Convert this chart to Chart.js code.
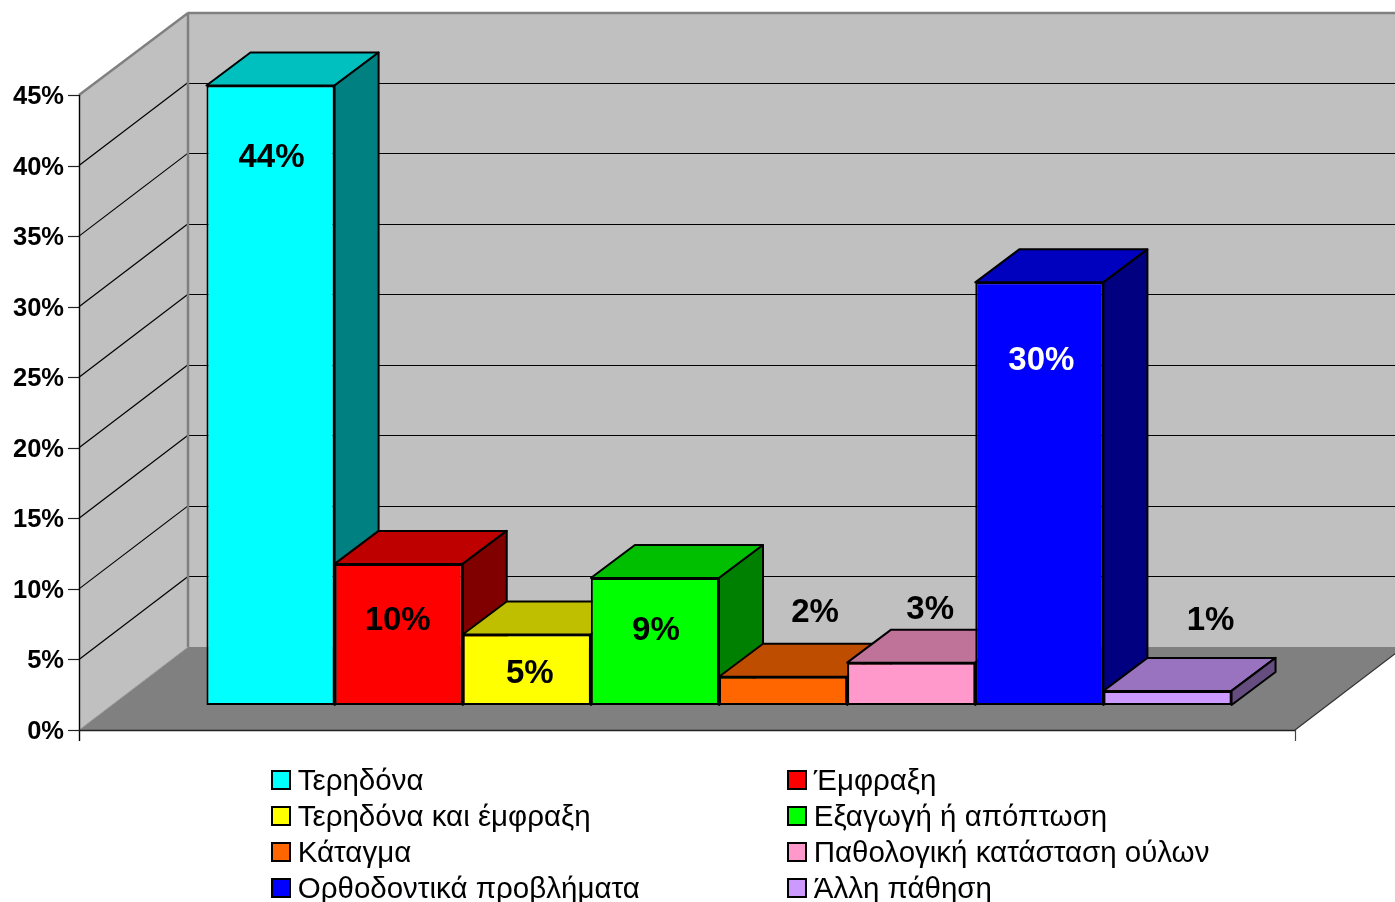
<!DOCTYPE html>
<html>
<head>
<meta charset="utf-8">
<style>html,body{margin:0;padding:0;background:#fff;overflow:hidden}canvas{display:block}</style>
<script src="https://cdn.jsdelivr.net/npm/chart.js@4"></script>
</head>
<body>
<canvas id="c" width="1395" height="902"></canvas>
<script>
const categories = ['Τερηδόνα','Έμφραξη','Τερηδόνα και έμφραξη','Εξαγωγή ή απόπτωση','Κάταγμα','Παθολογική κατάσταση ούλων','Ορθοδοντικά προβλήματα','Άλλη πάθηση'];
const values = [43.9,10,5,9,2,3,29.95,1];
const colors = ['#00ffff','#ff0000','#ffff00','#00ff00','#ff6600','#ff99cc','#0000ff','#cc99ff'];
const tickStep = 5;
const axisMax = 45;

// hand-placed data label offsets, relative to each bar's front-top centre
const labelNudge = [[1,72],[-1,57],[3,39],[1,53],[32,-64],[19,-53],[2,79],[43,-70]];
const labelColors = ['#000','#000','#000','#000','#000','#000','#fff','#000'];

// projection of the oblique 3D box, relative to the plane of the bars' front faces
const FRONT = {x:-32, y:25};
const BACK = {x:77, y:-58};
const BAR_DEPTH = {x:44, y:-33};

function shade(hex, k){
  const n = parseInt(hex.slice(1),16);
  const f = s => Math.round(((n>>s)&255)*k);
  return 'rgb('+f(16)+','+f(8)+','+f(0)+')';
}
function poly(ctx, pts, fill, stroke, lw){
  ctx.beginPath();
  pts.forEach((p,i)=> i ? ctx.lineTo(p[0],p[1]) : ctx.moveTo(p[0],p[1]));
  ctx.closePath();
  if(fill){ctx.fillStyle=fill;ctx.fill();}
  if(stroke){ctx.strokeStyle=stroke;ctx.lineWidth=lw;ctx.lineJoin='round';ctx.stroke();}
}
function line(ctx,x1,y1,x2,y2,color,lw){
  ctx.beginPath();ctx.moveTo(x1,y1);ctx.lineTo(x2,y2);
  ctx.strokeStyle=color;ctx.lineWidth=lw;ctx.stroke();
}

const COL_STEP = 516;
const box3d = {
  id:'box3d',
  afterLayout(chart){
    const l = chart.legend;
    l.maxHeight = 160;
    l.maxWidth = 1000;
    l.fit();
    l.columnSizes[0].width = COL_STEP - 6.5;
    l.left = 264.5; l.top = 760.5; l.right = 1264; l.bottom = 912;
    l.width = 1000; l.height = 151.5;
  },
  beforeDatasetsDraw(chart){
    const ctx = chart.ctx, a = chart.chartArea, y = chart.scales.y;
    const y0 = y.getPixelForValue(0), yT = y.getPixelForValue(axisMax);
    const top = yT+BACK.y+1;
    ctx.save();
    // back wall
    poly(ctx,[[a.left+BACK.x,top],[a.right+BACK.x,top],[a.right+BACK.x,y0+BACK.y],[a.left+BACK.x,y0+BACK.y]],'#c0c0c0');
    // left wall
    poly(ctx,[[a.left+FRONT.x,y0+FRONT.y],[a.left+FRONT.x,yT+FRONT.y],[a.left+BACK.x,top],[a.left+BACK.x,y0+BACK.y]],'#c0c0c0');
    // floor
    poly(ctx,[[a.left+FRONT.x,y0+FRONT.y],[a.right+FRONT.x,y0+FRONT.y],[a.right+BACK.x,y0+BACK.y],[a.left+BACK.x,y0+BACK.y]],'#808080');
    // gridlines
    y.ticks.forEach(t=>{
      const p = y.getPixelForValue(t.value);
      if(t.value>0 && t.value<axisMax){
        line(ctx,a.left+FRONT.x,p+FRONT.y,a.left+BACK.x,p+BACK.y,'#000',1.2);
        line(ctx,a.left+BACK.x,Math.round(p+BACK.y)+.5,a.right+BACK.x,Math.round(p+BACK.y)+.5,'#000',1);
      }
      line(ctx,a.left+FRONT.x-11,Math.round(p+FRONT.y)+.5,a.left+FRONT.x,Math.round(p+FRONT.y)+.5,'#222',1.2);
    });
    // wall edges
    line(ctx,a.left+FRONT.x,yT+FRONT.y,a.left+BACK.x,top,'#808080',2.5);
    line(ctx,a.left+BACK.x-.5,top,a.right+BACK.x,top,'#808080',2.5);
    line(ctx,a.left+BACK.x,top,a.left+BACK.x,y0+BACK.y,'#808080',2.5);
    line(ctx,a.left+BACK.x,y0+BACK.y,a.left+FRONT.x,y0+FRONT.y,'#a0a0a0',1);
    // front axis lines
    line(ctx,a.left+FRONT.x+.5,yT+FRONT.y,a.left+FRONT.x+.5,y0+FRONT.y+11,'#000',1.4);
    line(ctx,a.left+FRONT.x,y0+FRONT.y+.5,a.right+FRONT.x,y0+FRONT.y+.5,'#222',1.5);
    line(ctx,a.right+FRONT.x+.5,y0+FRONT.y,a.right+FRONT.x+.5,y0+FRONT.y+11,'#444',1.2);
    line(ctx,a.right+FRONT.x,y0+FRONT.y,a.right+BACK.x,y0+BACK.y,'#333',1.2);
    ctx.restore();
  },
  beforeDatasetDraw(){ return false; },
  afterDatasetsDraw(chart){
    const ctx = chart.ctx;
    ctx.save();
    // painter's order: left to right, so each bar hides its left neighbour's side
    chart.data.datasets.forEach((ds,i)=>{
      const el = chart.getDatasetMeta(i).data[0];
      const x0 = el.x-el.width/2, x1 = el.x+el.width/2, t = el.y, b = el.base;
      const d = BAR_DEPTH;
      poly(ctx,[[x0,t],[x1,t],[x1+d.x,t+d.y],[x0+d.x,t+d.y]],shade(colors[i],.75),'#000',2);
      poly(ctx,[[x1,t],[x1+d.x,t+d.y],[x1+d.x,b+d.y],[x1,b]],shade(colors[i],.5),'#000',2);
      el.draw(ctx);
    });
    // data labels
    ctx.font = 'bold 33px "Liberation Sans"';
    ctx.textAlign = 'center';
    ctx.textBaseline = 'middle';
    chart.data.datasets.forEach((ds,i)=>{
      const el = chart.getDatasetMeta(i).data[0];
      ctx.fillStyle = labelColors[i];
      ctx.fillText(Math.round(values[i])+'%', el.x+labelNudge[i][0], el.y+labelNudge[i][1]);
    });
    ctx.restore();
  },
  afterDraw(chart){
    // enlarge the legend swatches to the reference size
    const ctx = chart.ctx, l = chart.legend;
    ctx.save();
    l.legendItems.forEach((it,i)=>{
      const h = l.legendHitBoxes[i];
      const left = 272 + h.col*COL_STEP;
      const top = 771 + (h.col ? i-4 : i)*36;
      ctx.fillStyle = it.fillStyle;
      ctx.fillRect(left, top, 18, 18);
      ctx.strokeStyle = '#000';
      ctx.lineWidth = 2;
      ctx.strokeRect(left, top, 18, 18);
    });
    ctx.restore();
  }
};

new Chart(document.getElementById('c'),{
  type:'bar',
  data:{
    labels:[''],
    datasets:categories.map((name,i)=>({
      label:name,
      data:[values[i]],
      backgroundColor:colors[i],
      borderColor:'#000',
      borderWidth:2,
      borderSkipped:false
    }))
  },
  options:{
    responsive:false,
    animation:false,
    events:[],
    categoryPercentage:0.843,
    barPercentage:1,
    layout:{padding:{left:0,right:68,top:70,bottom:197}},
    scales:{
      x:{display:false},
      y:{
        min:0,max:axisMax,
        grid:{display:false,drawTicks:false},
        border:{display:false},
        afterFit(s){s.width=111;},
        ticks:{
          stepSize:tickStep,
          autoSkip:false,
          padding:47,
          labelOffset:27,
          color:'#000',
          font:{family:'"Liberation Sans"',size:25.5,weight:'bold'},
          callback:v=>v+'%'
        }
      }
    },
    plugins:{
      tooltip:{enabled:false},
      title:{display:false},
      legend:{
        display:true,
        position:'chartArea',
        align:'start',
        labels:{
          boxWidth:12,
          boxHeight:12,
          padding:6.5,
          color:'#000',
          font:{family:'"Liberation Sans"',size:29.5},
          generateLabels:c=>Chart.defaults.plugins.legend.labels.generateLabels(c).map(x=>({...x,lineWidth:0})),
          sort:(a,b)=>(a.datasetIndex%2)-(b.datasetIndex%2)||a.datasetIndex-b.datasetIndex
        }
      }
    }
  },
  plugins:[box3d]
});
</script>
</body>
</html>
